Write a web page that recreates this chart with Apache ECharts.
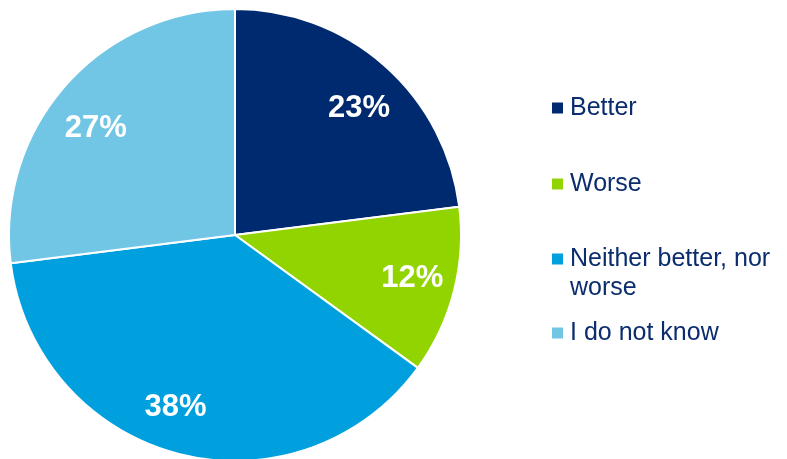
<!DOCTYPE html>
<html>
<head>
<meta charset="utf-8">
<script src="https://cdn.jsdelivr.net/npm/echarts@6/dist/echarts.min.js"></script>
<style>
  html, body { margin: 0; padding: 0; background: #ffffff; }
  #chart { width: 787px; height: 459px; }
</style>
</head>
<body>
<div id="chart"></div>
<script>
// Survey answers and their shares (percent)
const categories = ['Better', 'Worse', 'Neither better, nor worse', 'I do not know'];
const shares = [23, 12, 38, 27];
const colors = ['#002A6F', '#92D400', '#00A0DF', '#72C6E5'];

const FONT = '"Liberation Sans", Arial, sans-serif';
const TEXT_NAVY = '#0B2D6E';

// small nudges of the percentage labels inside their slices
const labelNudge = [[3, 11], [0, -2], [-14, -5], [-2, 14]];

const data = categories.map((name, i) => ({
  name: name,
  value: shares[i],
  itemStyle: { color: colors[i] }
}));

// One legend block per answer, so each can sit at its own height
const legendTops = [93.5, 169.5, 244.5, 318.5];
const legends = categories.map((name, i) => {
  const twoLine = name === 'Neither better, nor worse';
  return {
    data: [name],
    left: 552,
    top: legendTops[i],
    padding: 0,
    orient: 'vertical',
    itemWidth: 11,
    itemHeight: twoLine ? 40 : 11,
    itemStyle: { borderWidth: 0 },
    // square kept at the top so it lines up with the first text line
    icon: twoLine ? 'path://M0,0L11,0L11,11L0,11Z M0,40L0.01,40L0,40Z' : 'rect',
    selectedMode: false,
    formatter: twoLine ? () => 'Neither better, nor\nworse' : undefined,
    textStyle: {
      fontFamily: FONT,
      fontSize: 25,
      lineHeight: 29,
      padding: [0, 0, 0, 2],
      color: TEXT_NAVY
    }
  };
});

const chart = echarts.init(document.getElementById('chart'), null, { renderer: 'canvas' });
chart.setOption({
  backgroundColor: '#ffffff',
  animation: false,
  legend: legends,
  series: [
    {
      type: 'pie',
      center: [235, 235],
      radius: [0, 226],
      startAngle: 90,
      clockwise: true,
      data: data,
      label: { show: false },
      labelLine: { show: false },
      itemStyle: { borderColor: '#ffffff', borderWidth: 2 },
      emphasis: { disabled: true }
    },
    {
      // transparent ring that only carries the percentage labels
      type: 'pie',
      center: [235, 235],
      radius: [134, 226],
      startAngle: 90,
      clockwise: true,
      silent: true,
      data: data.map(d => ({ name: d.name, value: d.value, itemStyle: { color: 'rgba(0,0,0,0)' } })),
      label: {
        show: true,
        position: 'inside',
        formatter: p => p.value + '%',
        color: '#ffffff',
        fontFamily: FONT,
        fontWeight: 'bold',
        fontSize: 31
      },
      labelLayout: p => ({ dx: labelNudge[p.dataIndex][0], dy: labelNudge[p.dataIndex][1] }),
      labelLine: { show: false },
      emphasis: { disabled: true }
    }
  ]
});
</script>
</body>
</html>
